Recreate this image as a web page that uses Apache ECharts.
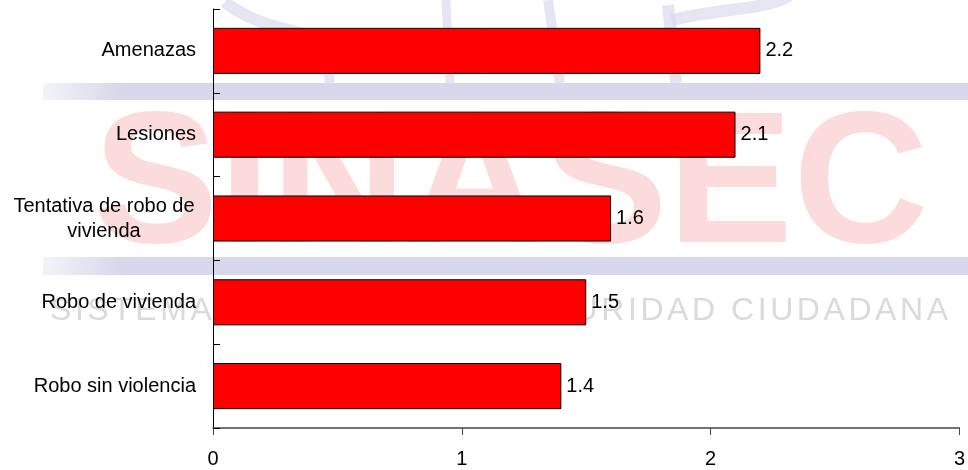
<!DOCTYPE html>
<html>
<head>
<meta charset="utf-8">
<script src="https://cdn.jsdelivr.net/npm/echarts@6/dist/echarts.min.js"></script>
<style>
html,body{margin:0;padding:0;background:#fff;}
#chart{width:968px;height:470px;}
</style>
</head>
<body>
<div id="chart"></div>
<script>
var categories = ['Amenazas', 'Lesiones', 'Tentativa de robo de vivienda', 'Robo de vivienda', 'Robo sin violencia'];
var values = [2.2, 2.1, 1.6, 1.5, 1.4];
var xTicks = [0, 1, 2, 3];

var FONT = '"Liberation Sans", Arial, sans-serif';

// watermark helpers (decorative background)
function spacedText(str, x0, x1, y, size, color) {
  var c = document.createElement('canvas').getContext('2d');
  c.font = size + 'px ' + FONT;
  var widths = str.split('').map(function (ch) { return c.measureText(ch).width; });
  var total = widths.reduce(function (a, b) { return a + b; }, 0);
  var gap = (x1 - x0 - total) / (str.length - 1);
  var els = [], x = x0;
  str.split('').forEach(function (ch, i) {
    if (ch !== ' ') {
      els.push({ type: 'text', z: -10, silent: true, x: x, y: y,
        style: { text: ch, fill: color, font: size + 'px ' + FONT, textVerticalAlign: 'middle' } });
    }
    x += widths[i] + gap;
  });
  return els;
}

var lav = 'rgba(212,212,236,0.6)';
var bandFill = function () {
  return new echarts.graphic.LinearGradient(0, 0, 1, 0, [
    { offset: 0, color: 'rgba(215,215,235,0.3)' },
    { offset: 0.08, color: 'rgba(212,212,234,0.9)' },
    { offset: 1, color: 'rgba(212,212,234,0.9)' }]);
};
var graphics = [
  // logo strokes at top
  { type: 'bezierCurve', z: -10, silent: true, shape: { x1: 225, y1: 2, cpx1: 260, cpy1: 30, cpx2: 300, cpy2: 28, x2: 330, y2: 45 }, style: { stroke: lav, lineWidth: 12, fill: null } },
  { type: 'line', z: -10, silent: true, shape: { x1: 322, y1: 35, x2: 330, y2: 83 }, style: { stroke: lav, lineWidth: 10 } },
  { type: 'line', z: -10, silent: true, shape: { x1: 446, y1: 0, x2: 450, y2: 83 }, style: { stroke: lav, lineWidth: 9 } },
  { type: 'line', z: -10, silent: true, shape: { x1: 548, y1: 0, x2: 560, y2: 83 }, style: { stroke: lav, lineWidth: 10 } },
  { type: 'line', z: -10, silent: true, shape: { x1: 668, y1: 5, x2: 676, y2: 83 }, style: { stroke: lav, lineWidth: 12 } },
  { type: 'bezierCurve', z: -10, silent: true, shape: { x1: 672, y1: 20, cpx1: 720, cpy1: 8, cpx2: 770, cpy2: 10, x2: 790, y2: -5 }, style: { stroke: lav, lineWidth: 12, fill: null } },
  // lavender bands
  { type: 'rect', z: -9, silent: true, shape: { x: 43, y: 83, width: 925, height: 17 }, style: { fill: bandFill() } },
  { type: 'rect', z: -9, silent: true, shape: { x: 43, y: 257, width: 925, height: 18 }, style: { fill: bandFill() } },
  // big letters
  { type: 'text', z: -11, silent: true, x: 93, y: 190,
    style: { text: 'SINASEC', fill: 'rgba(248,190,190,0.55)', font: 'bold 188px ' + FONT, textVerticalAlign: 'middle' } }
].concat(spacedText('SISTEMA NACIONAL DE SEGURIDAD CIUDADANA', 50, 948, 311, 32, '#dadada'));

var chart = echarts.init(document.getElementById('chart'), null, { renderer: 'canvas' });
chart.setOption({
  backgroundColor: '#ffffff',
  animation: false,
  textStyle: { fontFamily: FONT },
  graphic: graphics,
  grid: { left: 213, right: 6, top: 9, bottom: 42, containLabel: false },
  xAxis: {
    type: 'value', min: xTicks[0], max: xTicks[xTicks.length - 1], interval: 1,
    splitLine: { show: false },
    axisLine: { show: true, lineStyle: { color: '#444', width: 1.5 } },
    axisTick: { show: true, inside: false, length: 7, lineStyle: { color: '#444' } },
    axisLabel: { fontSize: 20, color: '#000', margin: 21, fontFamily: FONT }
  },
  yAxis: {
    type: 'category', inverse: true, data: categories,
    axisLine: { show: true, lineStyle: { color: '#000', width: 1 } },
    axisTick: { show: true, inside: true, length: 7, lineStyle: { color: '#000' } },
    axisLabel: {
      fontSize: 20, color: '#000', margin: 17, fontFamily: FONT, lineHeight: 25, align: 'right',
      formatter: function (v) {
        return v === 'Tentativa de robo de vivienda' ? '{c|Tentativa de robo de}\n{c|vivienda}' : v;
      },
      rich: { c: { width: 184, align: 'center', fontSize: 20, lineHeight: 25, color: '#000', fontFamily: FONT } }
    }
  },
  series: [{
    type: 'bar', data: values, barCategoryGap: '45%', z: 5,
    itemStyle: { color: '#ff0000', borderColor: '#000', borderWidth: 1 },
    label: { show: true, position: 'right', distance: 5, fontSize: 20, color: '#000', fontFamily: FONT }
  }]
});
</script>
</body>
</html>
